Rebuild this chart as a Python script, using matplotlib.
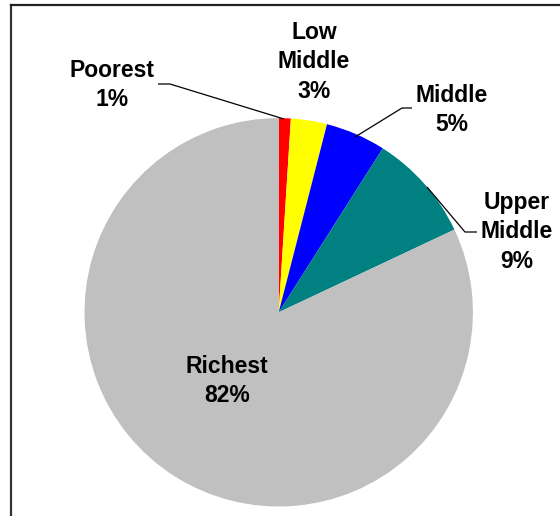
import matplotlib
matplotlib.use("Agg")
import matplotlib.pyplot as plt
from matplotlib.lines import Line2D

# Share of total by income group
groups = ["Poorest", "Low\nMiddle", "Middle", "Upper\nMiddle", "Richest"]
shares = [1, 3, 5, 9, 82]
colors = ["#FF0000", "#FFFF00", "#0000FF", "#008080", "#C0C0C0"]

W, H = 560, 516
fig = plt.figure(figsize=(W / 100, H / 100), dpi=100)
ax = fig.add_axes([0, 0, 1, 1])


def py(y):
    # pixel row (top-down) to axes y
    return H - y


cx, cy, r = 278.7, 312.3, 194.2
ax.pie(shares, colors=colors, startangle=90, counterclock=False,
       center=(cx, py(cy)), radius=r, frame=True,
       wedgeprops=dict(linewidth=0))
ax.set_xlim(0, W)
ax.set_ylim(0, H)
ax.set_aspect("equal")
ax.axis("off")

# label positions (pixel coordinates) and leader lines
label_pos = [(112, 85), (314, 62), (452, 110), (517, 232), (227, 381)]
for name, val, (lx, ly) in zip(groups, shares, label_pos):
    ax.text(lx, py(ly), f"{name}\n{val}%", ha="center", va="center",
            fontsize=16.5, fontweight="bold", family="Liberation Sans",
            linespacing=1.37, color="black")

leaders = [
    [(158, 84), (170, 84), (284, 119)],
    [(412, 108), (402, 108), (355, 137)],
    [(477, 232), (465, 232), (427, 187)],
]
for pts in leaders:
    xs = [p[0] for p in pts]
    ys = [py(p[1]) for p in pts]
    ax.plot(xs, ys, color="black", lw=0.9, solid_capstyle="butt")

# chart frame (top and left edges)
ax.add_line(Line2D([11, 11], [py(5), py(520)], color="#333333", lw=1.6))
ax.add_line(Line2D([11, 565], [py(5), py(5)], color="#222222", lw=1.6))

fig.savefig("out.png", dpi=100)
